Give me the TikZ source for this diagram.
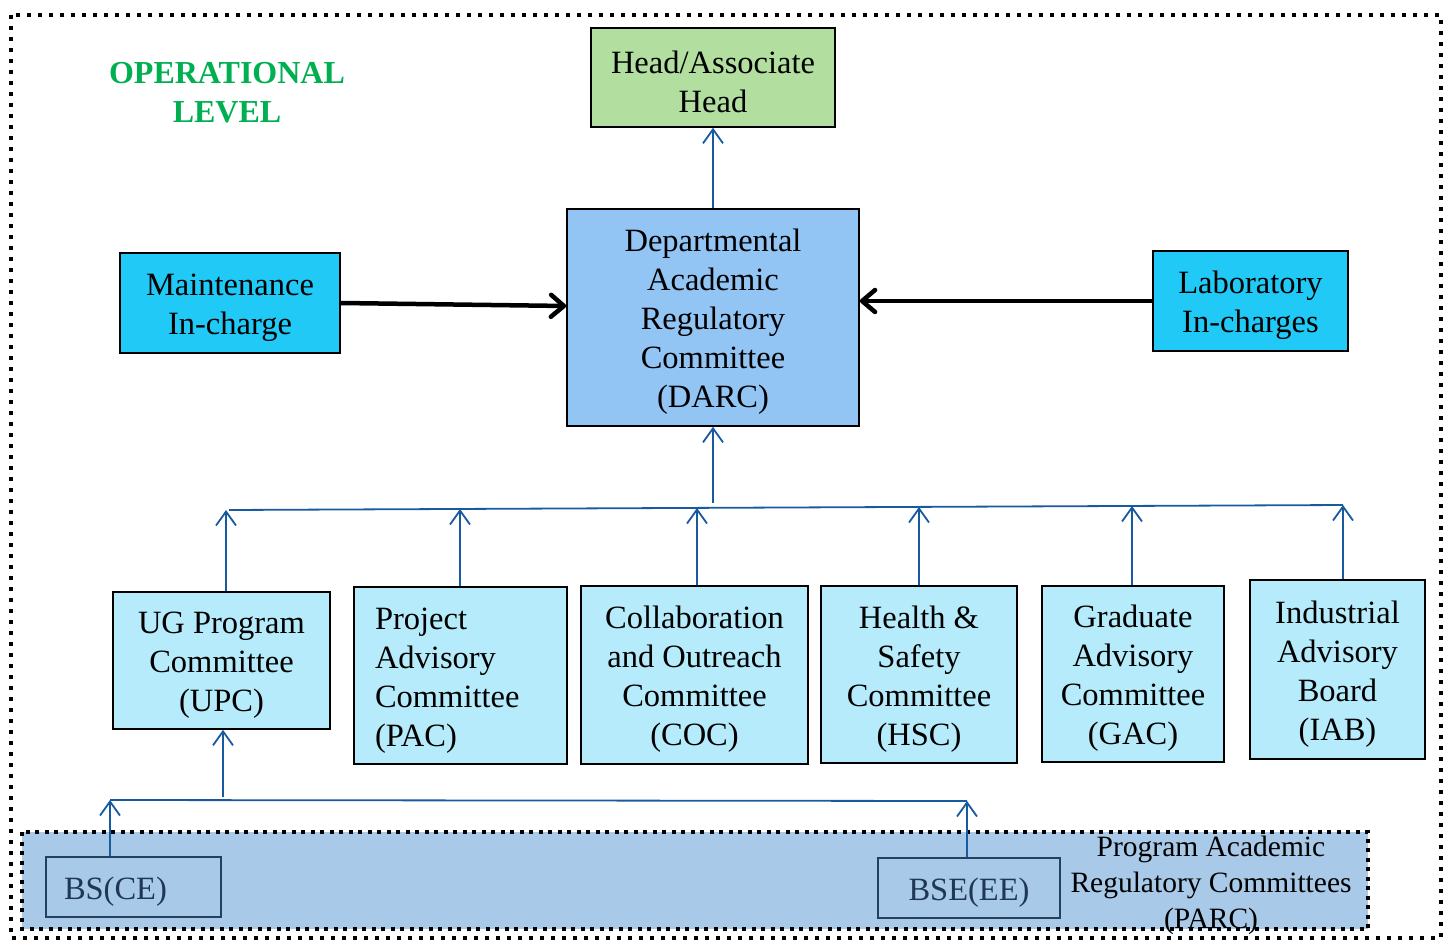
\documentclass[tikz,border=0pt]{standalone}
\usepackage{fontspec}
\setmainfont{Liberation Serif}
\usetikzlibrary{arrows.meta}

\definecolor{headgreen}{RGB}{178,222,160}
\definecolor{darcblue}{RGB}{146,196,244}
\definecolor{brightcyan}{RGB}{32,201,246}
\definecolor{paleblue}{RGB}{181,235,250}
\definecolor{parcfill}{RGB}{168,201,231}
\definecolor{linkblue}{RGB}{24,90,160}
\definecolor{navytext}{RGB}{30,55,85}
\definecolor{navyline}{RGB}{35,65,95}
\definecolor{titlegreen}{RGB}{0,176,80}

\newcommand{\mainsize}{\fontsize{32.5}{39}\selectfont}
\newcommand{\parcsize}{\fontsize{29.5}{36}\selectfont}

\begin{document}
\begin{tikzpicture}[x=1pt,y=-1pt,
  box/.style={draw=black, line width=1.6pt, inner sep=0pt, align=flush center, font=\mainsize,
    execute at begin node={\rule{0pt}{31pt}}},
  progbox/.style={draw=navyline, line width=1.8pt, inner sep=0pt, align=flush center,
    text=navytext, font=\mainsize, execute at begin node={\rule{0pt}{31pt}}},
  uplink/.style={draw=linkblue, line width=1.8pt, -{Straight Barb[length=14pt,width=20pt]}},
  busline/.style={draw=linkblue, line width=1.8pt},
  heavylink/.style={draw=black, line width=4.5pt, -{Straight Barb[round,length=13pt,width=22pt]}},
  dotframe/.style={draw=black, line width=4pt, dash pattern=on 4pt off 7pt}]
\useasboundingbox (0,0) rectangle (1447,941);

% Program Academic Regulatory Committees band
\fill[parcfill] (22,832) rectangle (1368,929);
\draw[draw=black, line width=4pt, dash pattern=on 4pt off 5.5pt] (22,832) rectangle (1368,929);
\node[font=\parcsize, align=center, inner sep=0pt] (parc) at (1211,885)
  {Program Academic\\Regulatory Committees\\(PARC)};

% Title
\node[font=\bfseries\fontsize{32}{39}\selectfont, text=titlegreen, align=center, inner sep=0pt]
  (title) at (227,92.5) {OPERATIONAL\\LEVEL};

% Upper level
\node[box, fill=headgreen, minimum width=244pt, text width=234pt, minimum height=99pt]
  (head) at (713,77.5) {Head/Associate\\Head};
\node[box, fill=darcblue, minimum width=292pt, text width=282pt, minimum height=217pt]
  (darc) at (713,317.5) {Departmental\\Academic\\Regulatory\\Committee\\(DARC)};
\node[box, fill=brightcyan, minimum width=220pt, text width=210pt, minimum height=100pt]
  (maint) at (230,303) {Maintenance\\In-charge};
\node[box, fill=brightcyan, minimum width=195pt, text width=185pt, minimum height=100pt]
  (lab) at (1250.5,301) {Laboratory\\In-charges};

% Committees
\node[box, fill=paleblue, minimum width=217pt, text width=207pt, minimum height=137pt]
  (upc) at (221.5,660.5) {UG Program\\Committee\\(UPC)};
\node[box, fill=paleblue, minimum width=213pt, minimum height=177pt, text width=171pt, align=flush left]
  (pac) at (460.5,675.5) {Project\\Advisory\\Committee\\(PAC)};
\node[box, fill=paleblue, minimum width=227pt, text width=217pt, minimum height=178pt]
  (coc) at (694.5,675) {Collaboration\\and Outreach\\Committee\\(COC)};
\node[box, fill=paleblue, minimum width=196pt, text width=186pt, minimum height=177pt]
  (hsc) at (919,674.5) {Health \&\\Safety\\Committee\\(HSC)};
\node[box, fill=paleblue, minimum width=182pt, text width=172pt, minimum height=176pt]
  (gac) at (1133,674) {Graduate\\Advisory\\Committee\\(GAC)};
\node[box, fill=paleblue, minimum width=175pt, text width=165pt, minimum height=179pt]
  (iab) at (1337.5,669.5) {Industrial\\Advisory\\Board\\(IAB)};

% Programs
\node[progbox, minimum width=175pt, minimum height=60pt, text width=139pt, align=flush left]
  (bsce) at (133.5,887) {BS(CE)};
\node[progbox, minimum width=182pt, text width=172pt, minimum height=60pt]
  (bsee) at (969,888) {BSE(EE)};

% Committee bus feeding DARC
\coordinate (busL) at (229,510);
\coordinate (busR) at (1343,505);
\coordinate (busM) at (713,503);
\coordinate (tU) at (226,510);
\coordinate (tP) at (460,509);
\coordinate (tC) at (697,508);
\coordinate (tH) at (919,507);
\coordinate (tG) at (1132,506);
\coordinate (tI) at (1343,505);
\draw[busline] (busL) -- (busR);
\draw[uplink] (upc.north -| tU) -- (tU);
\draw[uplink] (pac.north -| tP) -- (tP);
\draw[uplink] (coc.north -| tC) -- (tC);
\draw[uplink] (hsc.north -| tH) -- (tH);
\draw[uplink] (gac.north -| tG) -- (tG);
\draw[uplink] (iab.north -| tI) -- (tI);
\draw[uplink] (busM) -- (darc.south);
\draw[uplink] (darc.north) -- (head.south);

% Program bus feeding UPC
\coordinate (pbL) at (110,800);
\coordinate (pbR) at (967,801);
\coordinate (pbM) at (223,797);
\draw[busline] (pbL) -- (pbR);
\draw[uplink] (bsce.north -| pbL) -- (pbL);
\draw[uplink] (bsee.north -| pbR) -- (pbR);
\draw[uplink] (pbM) -- (upc.south -| pbM);

% Support roles feeding DARC
\draw[heavylink] (maint.east) -- ([yshift=11.5pt]darc.west);
\draw[heavylink] (lab.west) -- (darc.east |- lab.west);

% Outer frame
\draw[dotframe] (11,15) rectangle (1441,938);
\end{tikzpicture}
\end{document}
